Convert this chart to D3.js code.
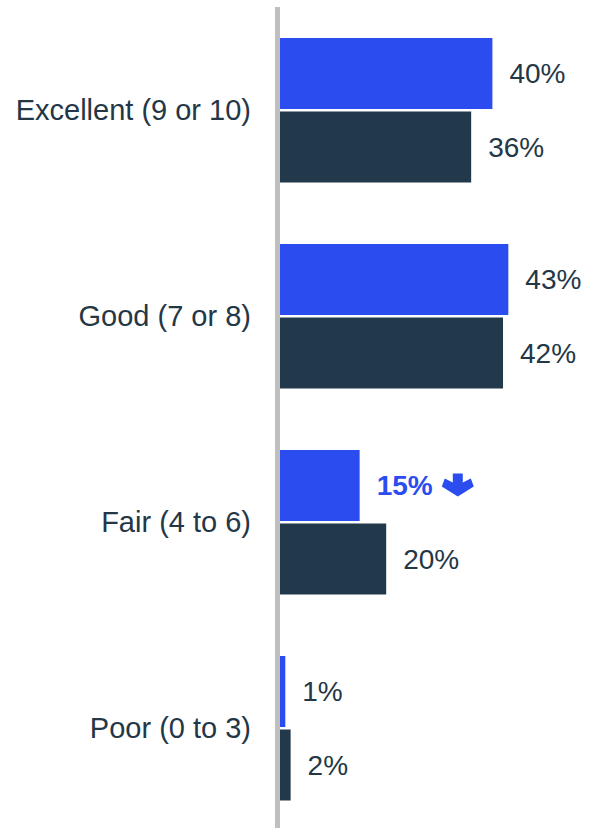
<!DOCTYPE html>
<html>
<head>
<meta charset="utf-8">
<script src="https://cdn.jsdelivr.net/npm/d3@7"></script>
<style>
  html, body { margin: 0; padding: 0; background: #ffffff; }
  svg { display: block; }
  text { font-family: "Liberation Sans", Arial, sans-serif; }
</style>
</head>
<body>
<svg id="chart" width="589" height="828"></svg>
<script>
// Rating categories, top to bottom
const categories = ["Excellent (9 or 10)", "Good (7 or 8)", "Fair (4 to 6)", "Poor (0 to 3)"];
// Two survey waves shown per category (latest first)
const seriesKeys = ["latest", "previous"];
const latestValues = [40, 43, 15, 1];
const previousValues = [36, 42, 20, 2];
// Statistically significant decrease versus the previous wave
const latestDecrease = [false, false, true, false];

const colors = { latest: "#2b4df0", previous: "#22384b" };
const textColor = "#243746";
const valueFontSize = 28;
const categoryFontSize = 29;

const width = 589, height = 828;
const axisX = 280;

const rows = [];
categories.forEach((c, i) => {
  rows.push({ cat: c, key: "latest", value: latestValues[i], down: latestDecrease[i] });
  rows.push({ cat: c, key: "previous", value: previousValues[i], down: false });
});

const svg = d3.select("#chart");

const y = d3.scaleBand()
  .domain(categories)
  .range([38, 800.5])
  .paddingInner(0.2985)
  .paddingOuter(0);

const ySub = d3.scaleBand()
  .domain(seriesKeys)
  .range([0, y.bandwidth()])
  .paddingInner(0.034);

const x = d3.scaleLinear()
  .domain([0, 50])
  .range([axisX, axisX + 5.31 * 50]);

// Bars
svg.append("g")
  .selectAll("rect")
  .data(rows)
  .join("rect")
  .attr("x", x(0))
  .attr("y", d => y(d.cat) + ySub(d.key))
  .attr("width", d => x(d.value) - x(0))
  .attr("height", ySub.bandwidth())
  .attr("fill", d => colors[d.key]);

// Category labels
const yAxis = svg.append("g")
  .attr("transform", `translate(251,0)`)
  .call(d3.axisLeft(y).tickSize(0).tickPadding(0));
yAxis.select(".domain").remove();
yAxis.selectAll("text")
  .attr("font-size", categoryFontSize)
  .attr("fill", textColor)
  .attr("font-family", "Liberation Sans, Arial, sans-serif");

// Vertical baseline
svg.append("line")
  .attr("x1", axisX - 2.5).attr("x2", axisX - 2.5)
  .attr("y1", 7).attr("y2", height)
  .attr("stroke", "#bfbfbf")
  .attr("stroke-width", 5);

// Value labels
const labels = svg.append("g")
  .selectAll("text")
  .data(rows)
  .join("text")
  .attr("x", d => x(d.value) + 17)
  .attr("y", d => y(d.cat) + ySub(d.key) + ySub.bandwidth() / 2)
  .attr("dy", "0.35em")
  .attr("font-size", valueFontSize)
  .attr("font-weight", d => d.down ? "bold" : "normal")
  .attr("fill", d => d.down ? colors.latest : textColor)
  .text(d => d.value + "%");

// Down arrow for significant decreases
labels.filter(d => d.down).each(function(d) {
  const bb = this.getBBox();
  const ax = bb.x + bb.width + 9;
  const ay = y(d.cat) + ySub(d.key) + ySub.bandwidth() / 2 - 12;
  svg.append("path")
    .attr("transform", `translate(${ax},${ay})`)
    .attr("d", "M11,0 H21 V9 L29,5 L32,13 L16,23 L0,13 L3,5 L11,9 Z")
    .attr("fill", colors.latest);
});
</script>
</body>
</html>
